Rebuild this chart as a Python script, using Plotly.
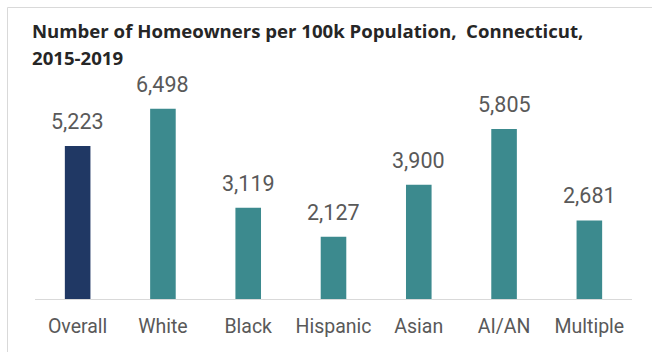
import plotly.graph_objects as go

# Homeowners per 100k population by group, Connecticut 2015-2019
categories = ["Overall", "White", "Black", "Hispanic", "Asian", "AI/AN", "Multiple"]
values = [5223, 6498, 3119, 2127, 3900, 5805, 2681]

NAVY = "#203864"
TEAL = "#3C8A8E"
colors = [NAVY] + [TEAL] * (len(categories) - 1)

W, H = 652, 352
ML, MR, MT, MB = 35, 20, 94, 53
PW, PH = W - ML - MR, H - MT - MB


def px_x(px):
    return (px - ML) / PW


def px_y(py):
    return (H - MB - py) / PH


fig = go.Figure(
    go.Bar(
        x=categories,
        y=values,
        marker=dict(color=colors, line=dict(width=0)),
        width=0.3,
        hoverinfo="skip",
    )
)

# value labels above each bar
for cat, v in zip(categories, values):
    fig.add_annotation(
        x=cat, y=v, xref="x", yref="y",
        text=f"{v:,}",
        showarrow=False,
        yanchor="bottom",
        yshift=10,
        font=dict(family="Roboto", size=21.5, color="#595959"),
    )

# title, two lines
TITLE_FONT = dict(family="Open Sans", size=18.6, color="#262626")
fig.add_annotation(
    x=px_x(30), y=px_y(31), xref="paper", yref="paper",
    text="<b>Number of Homeowners per 100k Population,  Connecticut,</b>",
    showarrow=False, xanchor="left", yanchor="middle",
    font=TITLE_FONT,
)
fig.add_annotation(
    x=px_x(30), y=px_y(57), xref="paper", yref="paper",
    text="<b>2015-2019</b>",
    showarrow=False, xanchor="left", yanchor="middle",
    font=TITLE_FONT,
)

# chart frame (left and top edges)
frame = dict(color="#D9D9D9", width=1)
fig.add_shape(type="line", xref="paper", yref="paper",
              x0=px_x(7.5), x1=px_x(7.5), y0=px_y(7.5), y1=px_y(H + 2), line=frame)
fig.add_shape(type="line", xref="paper", yref="paper",
              x0=px_x(7.5), x1=px_x(W + 2), y0=px_y(7.5), y1=px_y(7.5), line=frame)

fig.update_layout(
    width=W, height=H,
    margin=dict(l=ML, r=MR, t=MT, b=MB),
    paper_bgcolor="white",
    plot_bgcolor="white",
    showlegend=False,
    xaxis=dict(
        showline=True, linecolor="#D9D9D9", linewidth=1,
        showgrid=False, ticks="",
        tickfont=dict(family="Roboto", size=19.5, color="#595959"),
        ticklabelstandoff=10,
    ),
    yaxis=dict(
        range=[0, 7000], visible=False, showgrid=False, zeroline=False,
    ),
)

fig.write_html("out.html")
